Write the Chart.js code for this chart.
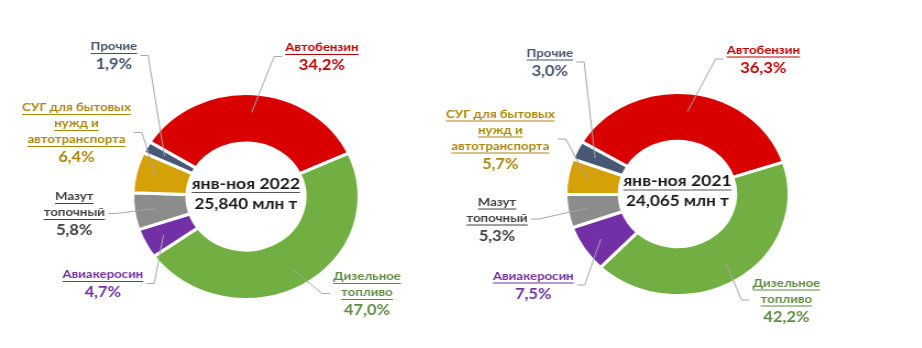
<!DOCTYPE html>
<html>
<head>
<meta charset="utf-8">
<script src="https://cdn.jsdelivr.net/npm/chart.js@4.4.1/dist/chart.umd.min.js"></script>
<style>
    body { margin: 0; background: #fff; width: 922px; height: 348px; overflow: hidden; }
    .painel { position: absolute; top: 0; width: 461px; height: 348px; }
</style>
</head>
<body>
<div class="painel" style="left:0"><canvas id="grafico2022" width="419" height="348" style="width:461px;height:348px"></canvas></div>
<div class="painel" style="left:431px"><canvas id="grafico2021" width="419" height="348" style="width:461px;height:348px"></canvas></div>
<script>
const categorias = ['Автобензин', 'Дизельное топливо', 'Авиакеросин', 'Мазут топочный', 'СУГ для бытовых нужд и автотранспорта', 'Прочие']
const linhasRotulo = [['Автобензин'], ['Дизельное', 'топливо'], ['Авиакеросин'], ['Мазут', 'топочный'], ['СУГ для бытовых', 'нужд и', 'автотранспорта'], ['Прочие']]
const participacao2022 = [34.2, 47.0, 4.7, 5.8, 6.4, 1.9]
const participacao2021 = [36.3, 42.2, 7.5, 5.3, 5.7, 3.0]
const periodos = ['янв-ноя 2022', 'янв-ноя 2021']
const totais = ['25,840 млн т', '24,065 млн т']

const coresFatia = ['#D90000', '#72AF43', '#7330A6', '#8C8C8C', '#D6A106', '#475874']
const coresTexto = ['#C00000', '#5F8A42', '#7030A0', '#404040', '#A9870C', '#44546A']

// posicao dos rotulos relativa ao centro do anel (px do canvas)
const posicaoRotulos2022 = [[69, -149], [110, 80], [-130, 78], [-156, 0], [-154, -89], [-120, -150]]
const posicaoRotulos2021 = [[78, -144], [99, 89], [-131, 82], [-164, 8], [-161, -80], [-116, -141]]

const fonte = "Lato, Carlito, Calibri, sans-serif"

function formatarPercentual(v) {
    return `${v.toFixed(1).replace('.', ',')}%`
}

function sublinhar(ctx, texto, x, y, cor, desloc) {
    let w = ctx.measureText(texto).width
    ctx.strokeStyle = cor
    ctx.lineWidth = 1
    ctx.beginPath()
    ctx.moveTo(x - w / 2, y + desloc)
    ctx.lineTo(x + w / 2, y + desloc)
    ctx.stroke()
}

const rotulosExternos = {
    id: 'rotulosExternos',
    afterDatasetsDraw(chart, args, opts) {
        let ctx = chart.ctx
        let arcos = chart.getDatasetMeta(0).data
        let valores = chart.data.datasets[0].data
        ctx.save()
        ctx.textBaseline = 'middle'
        ctx.textAlign = 'center'
        arcos.forEach((arco, i) => {
            let p = arco.getProps(['x', 'y', 'startAngle', 'endAngle', 'innerRadius', 'outerRadius'], true)
            let meio = (p.startAngle + p.endAngle) / 2
            let r = p.outerRadius - 0.38 * (p.outerRadius - p.innerRadius)
            let px = p.x + Math.cos(meio) * r
            let py = p.y + Math.sin(meio) * r

            let [dx, dy] = opts.posicoes[i]
            let lx = p.x + dx
            let ly = p.y + dy
            let linhas = linhasRotulo[i]
            let pctY = ly + linhas.length * 16 + 2

            ctx.font = `bold 12px ${fonte}`
            let largura = Math.max(...linhas.map(t => ctx.measureText(t).width))
            ctx.font = `bold 15px ${fonte}`
            largura = Math.max(largura, ctx.measureText(formatarPercentual(valores[i])).width)

            // linha de chamada
            let meioY = (ly + pctY) / 2
            let esquerda = lx < p.x
            let x0 = esquerda ? lx + largura / 2 + 3 : lx - largura / 2 - 3
            let x1 = esquerda ? x0 + 7 : x0 - 7
            ctx.strokeStyle = '#A6A6A6'
            ctx.lineWidth = 1
            ctx.beginPath()
            ctx.moveTo(x0, meioY)
            ctx.lineTo(x1, meioY)
            ctx.lineTo(px, py)
            ctx.stroke()

            ctx.fillStyle = coresTexto[i]
            ctx.font = `bold 12px ${fonte}`
            linhas.forEach((t, k) => {
                let y = ly + k * 16
                ctx.fillText(t, lx, y)
                sublinhar(ctx, t, lx, y, coresTexto[i], 7)
            })
            ctx.font = `bold 15px ${fonte}`
            ctx.fillText(formatarPercentual(valores[i]), lx, pctY)
        })

        let c = arcos[0]
        ctx.fillStyle = '#1A1A1A'
        ctx.font = `bold 16px ${fonte}`
        ctx.fillText(opts.periodo, c.x, c.y - 13)
        sublinhar(ctx, opts.periodo, c.x, c.y - 13, '#555555', 9)
        ctx.font = `bold 15.5px ${fonte}`
        ctx.fillText(opts.total, c.x, c.y + 7)
        ctx.restore()
    }
}

function criarGraficoRosca(idCanvas, valores, periodo, total, posicoes, rotacao, padding) {
    return new Chart(document.getElementById(idCanvas), {
        type: 'doughnut',
        data: {
            labels: categorias,
            datasets: [{
                data: valores,
                backgroundColor: coresFatia,
                borderColor: '#FFFFFF',
                borderWidth: 3,
                hoverOffset: 0
            }]
        },
        options: {
            responsive: false,
            animation: false,
            rotation: rotacao,
            cutout: '52%',
            layout: { padding: padding },
            plugins: {
                legend: { display: false },
                tooltip: { enabled: false },
                rotulosExternos: { periodo: periodo, total: total, posicoes: posicoes }
            }
        },
        plugins: [rotulosExternos]
    })
}

criarGraficoRosca('grafico2022', participacao2022, periodos[0], totais[0], posicaoRotulos2022, -58,
    { top: 92, bottom: 47, left: 119, right: 91 })
criarGraficoRosca('grafico2021', participacao2021, periodos[1], totais[1], posicaoRotulos2021, -59,
    { top: 91, bottom: 51, left: 121, right: 92 })
</script>
</body>
</html>
